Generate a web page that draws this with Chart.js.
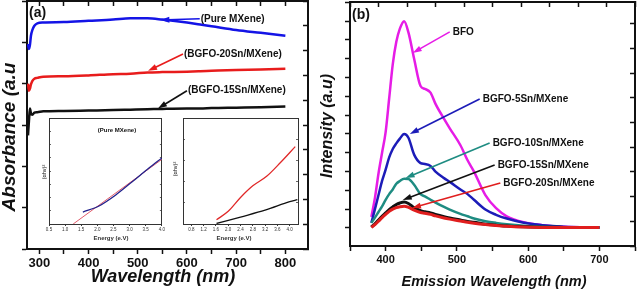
<!DOCTYPE html>
<html>
<head>
<meta charset="utf-8">
<script src="https://cdn.jsdelivr.net/npm/chart.js@4.4.1/dist/chart.umd.min.js"></script>
<style>
  body { margin: 0; background: #fff; }
  #wrap { position: relative; width: 637px; height: 290px; overflow: hidden; background: #fff; }
  canvas { position: absolute; }
</style>
</head>
<body>
<div id="wrap">
  <canvas id="absChart" width="318" height="290" style="left:0;top:0;width:318px;height:290px"></canvas>
  <canvas id="plChart" width="319" height="290" style="left:318px;top:0;width:319px;height:290px"></canvas>
  <canvas id="inset1" width="130" height="132" style="left:36px;top:112px;width:130px;height:132px"></canvas>
  <canvas id="inset2" width="132" height="132" style="left:170px;top:112px;width:132px;height:132px"></canvas>
</div>
<script>
// (a) absorbance spectra
const absWavelength = [277, 279, 281, 283, 286, 290, 296, 308, 350, 400, 450, 485, 520, 550, 600, 627, 650, 700, 750, 800];
const absPure = [4.96, 4.84, 4.94, 5.16, 5.30, 5.40, 5.46, 5.48, 5.49, 5.52, 5.55, 5.58, 5.58, 5.55, 5.48, 5.43, 5.39, 5.30, 5.23, 5.16];
const abs20Sn = [4.00, 3.83, 3.88, 3.98, 4.07, 4.12, 4.14, 4.17, 4.18, 4.20, 4.23, 4.24, 4.27, 4.28, 4.29, 4.30, 4.31, 4.33, 4.34, 4.36];
const abs15Sn = [2.75, 3.11, 3.40, 3.28, 3.25, 3.30, 3.31, 3.33, 3.34, 3.35, 3.36, 3.37, 3.38, 3.39, 3.40, 3.40, 3.41, 3.42, 3.43, 3.45];
const absTicks = [300, 400, 500, 600, 700, 800];

// (a) callouts: label, arrow tail, arrow tip (data units)
const absNotes = ['(Pure MXene)', '(BGFO-20Sn/MXene)', '(BGFO-15Sn/MXene)'];
const absNoteTail = [[626, 5.57], [592, 4.72], [600, 3.83]];
const absNoteTip = [[546, 5.54], [521, 4.31], [541, 3.40]];

// (b) photoluminescence spectra
const plWavelength = [380, 385, 390, 395, 400, 405, 410, 415, 420, 426, 432, 440, 449, 455, 463, 470, 482, 490, 505, 515, 524, 540, 555, 570, 594, 620, 650, 700];
const plBFO  = [0.59, 1.6, 2.9, 4.0, 5.1, 6.9, 8.7, 9.9, 10.6, 11.0, 10.4, 9.0, 7.55, 7.4, 7.2, 6.6, 5.8, 5.3, 4.4, 3.6, 3.0, 1.75, 1.05, 0.62, 0.3, 0.15, 0.06, 0.03];
const pl5Sn  = [0.27, 1.0, 1.75, 2.5, 3.1, 3.75, 4.2, 4.5, 4.75, 5.0, 4.8, 3.9, 3.45, 3.4, 3.3, 3.0, 2.65, 2.45, 2.05, 1.8, 1.5, 0.98, 0.7, 0.5, 0.28, 0.15, 0.07, 0.03];
const pl10Sn = [0.27, 0.55, 0.85, 1.15, 1.5, 1.8, 2.05, 2.35, 2.5, 2.62, 2.6, 2.3, 1.8, 1.68, 1.5, 1.35, 1.12, 0.98, 0.75, 0.62, 0.5, 0.36, 0.27, 0.2, 0.12, 0.07, 0.04, 0.03];
const pl15Sn = [0.05, 0.22, 0.42, 0.62, 0.8, 0.98, 1.12, 1.25, 1.33, 1.38, 1.3, 1.08, 0.92, 0.86, 0.8, 0.72, 0.6, 0.53, 0.42, 0.35, 0.3, 0.2, 0.15, 0.1, 0.06, 0.04, 0.03, 0.02];
const pl20Sn = [0.03, 0.18, 0.36, 0.55, 0.72, 0.88, 1.0, 1.08, 1.13, 1.16, 1.1, 0.95, 0.82, 0.78, 0.72, 0.64, 0.53, 0.47, 0.37, 0.3, 0.25, 0.18, 0.13, 0.09, 0.05, 0.03, 0.02, 0.02];

const plNotes = ['BFO', 'BGFO-5Sn/MXene', 'BGFO-10Sn/MXene', 'BGFO-15Sn/MXene', 'BGFO-20Sn/MXene'];
const plNoteTail = [[490, 10.43], [532, 6.86], [546, 4.52], [553, 3.35], [561, 2.39]];
const plNoteTip = [[438, 9.31], [434, 5.0], [428, 2.66], [424, 1.49], [437, 1.06]];

// insets: Tauc plots
const inset1Energy = [1.55, 2.05, 2.57, 3.07, 3.6, 4.0];
const inset1Pure = [1.13, 1.7, 2.74, 3.96, 5.28, 6.23];
const inset1FitEnergy = [1.25, 4.0];
const inset1Fit = [0, 6.1];
const inset2Energy = [1.62, 2.0, 2.4, 2.8, 3.25, 3.7, 4.18];
const inset2Red = [0.4, 1.2, 2.5, 3.6, 4.5, 5.8, 7.3];
const inset2BlackEnergy = [1.62, 2.4, 3.2, 4.0, 4.25];
const inset2Black = [0.05, 0.66, 1.3, 2.1, 2.3];

const FONT = '"Liberation Sans", Arial, sans-serif';
const INK = '#111';

const pts = (xs, ys) => xs.map((x, i) => ({x: x, y: ys[i]}));

function line(data, color, width, order) {
    return {
        data: data, borderColor: color, borderWidth: width, pointRadius: 0,
        fill: false, cubicInterpolationMode: 'monotone', order: order
    };
}

// text + arrow callouts drawn on top of the datasets
function decor(texts, notes, tails, tips, colors, noteFont, gap) {
    return {
        id: 'decor',
        afterDatasetsDraw(chart) {
            const ctx = chart.ctx;
            const sx = chart.scales.x, sy = chart.scales.y;
            ctx.save();
            notes.forEach((label, i) => {
                const x0 = sx.getPixelForValue(tails[i][0]), y0 = sy.getPixelForValue(tails[i][1]);
                const x1 = sx.getPixelForValue(tips[i][0]), y1 = sy.getPixelForValue(tips[i][1]);
                const a = Math.atan2(y1 - y0, x1 - x0);
                const hl = 9, hw = 3;
                ctx.strokeStyle = colors[i];
                ctx.fillStyle = colors[i];
                ctx.lineWidth = 1.6;
                ctx.beginPath();
                ctx.moveTo(x0, y0);
                ctx.lineTo(x1 - hl * 0.8 * Math.cos(a), y1 - hl * 0.8 * Math.sin(a));
                ctx.stroke();
                ctx.beginPath();
                ctx.moveTo(x1, y1);
                ctx.lineTo(x1 - hl * Math.cos(a) + hw * Math.sin(a), y1 - hl * Math.sin(a) - hw * Math.cos(a));
                ctx.lineTo(x1 - hl * Math.cos(a) - hw * Math.sin(a), y1 - hl * Math.sin(a) + hw * Math.cos(a));
                ctx.closePath();
                ctx.fill();
                ctx.fillStyle = INK;
                ctx.font = noteFont;
                ctx.textAlign = 'left';
                ctx.textBaseline = 'middle';
                ctx.fillText(label, x0 + gap, y0);
            });
            texts.forEach(t => {
                ctx.save();
                ctx.translate(t.x, t.y);
                if (t.rot) ctx.rotate(t.rot);
                ctx.font = t.font;
                ctx.fillStyle = t.color || INK;
                ctx.textAlign = t.align || 'center';
                ctx.textBaseline = 'middle';
                ctx.fillText(t.text, 0, 0);
                ctx.restore();
            });
            ctx.restore();
        }
    };
}

function frameAxis(pos, min, max, step, len, size, color, bw) {
    const horiz = pos === 'top' || pos === 'bottom';
    return {
        type: 'linear', position: pos, min: min, max: max,
        afterFit: s => { if (horiz) s.height = size; else s.width = size; },
        border: {color: color, width: bw},
        grid: {drawOnChartArea: false, tickLength: len, tickColor: color, tickWidth: bw * 0.75, display: step !== null},
        ticks: {display: false, stepSize: step || 1, includeBounds: false}
    };
}

// ---------- (a) ----------
new Chart(document.getElementById('absChart'), {
    type: 'line',
    data: {
        datasets: [
            line(pts(absWavelength, absPure), '#1414e6', 2.5, 0),
            line(pts(absWavelength, abs20Sn), '#e81c1c', 2.5, 1),
            line(pts(absWavelength, abs15Sn), INK, 2.5, 2)
        ]
    },
    options: {
        responsive: false, animation: false, devicePixelRatio: 1,
        layout: {padding: {top: 1, right: 10, left: 0, bottom: 0}},
        plugins: {legend: {display: false}, tooltip: {enabled: false}},
        elements: {line: {tension: 0}},
        scales: {
            x: {
                type: 'linear', position: 'bottom', min: 275, max: 846,
                afterFit: s => { s.height = 41; },
                border: {color: INK, width: 2},
                grid: {drawOnChartArea: false, tickLength: 5, tickWidth: 1.5, tickColor: INK},
                ticks: {
                    stepSize: 50, includeBounds: false, autoSkip: false, maxRotation: 0, padding: 2,
                    color: INK, font: {family: FONT, size: 13, weight: 'bold'},
                    callback: v => absTicks.includes(v) ? v : ''
                }
            },
            xTop: frameAxis('top', 275, 846, 50, -5, 0, INK, 2),
            y: frameAxis('left', 0, 6, 1, 5, 27, INK, 2),
            yRight: frameAxis('right', 0, 6, 0.6, -5, 0, INK, 2)
        }
    },
    plugins: [decor([
        {text: '(a)', x: 29, y: 13, font: 'bold 14px ' + FONT, align: 'left'},
        {text: 'Absorbance (a.u', x: 10, y: 137, rot: -Math.PI / 2, font: 'italic bold 19px ' + FONT},
        {text: 'Wavelength (nm)', x: 163, y: 277, font: 'italic bold 18px ' + FONT}
    ], absNotes, absNoteTail, absNoteTip, ['#1414e6', '#e81c1c', INK], 'bold 10px ' + FONT, 1)]
});

// ---------- (b) ----------
new Chart(document.getElementById('plChart'), {
    type: 'line',
    data: {
        datasets: [
            line(pts(plWavelength, plBFO), '#e61ce6', 2.5, 4),
            line(pts(plWavelength, pl5Sn), '#1c1cb8', 2.5, 3),
            line(pts(plWavelength, pl10Sn), '#1e8c82', 2.5, 2),
            line(pts(plWavelength, pl15Sn), INK, 3, 1),
            line(pts(plWavelength, pl20Sn), '#e01e1e', 3, 0)
        ]
    },
    options: {
        responsive: false, animation: false, devicePixelRatio: 1,
        layout: {padding: {top: 2, right: 2, left: 0, bottom: 0}},
        plugins: {legend: {display: false}, tooltip: {enabled: false}},
        scales: {
            x: {
                type: 'linear', position: 'bottom', min: 350, max: 750,
                afterFit: s => { s.height = 44; },
                border: {color: INK, width: 2},
                grid: {drawOnChartArea: false, tickLength: 5, tickWidth: 1.5, tickColor: INK},
                ticks: {
                    stepSize: 50, includeBounds: false, autoSkip: false, maxRotation: 0, padding: 2,
                    color: INK, font: {family: FONT, size: 11, weight: 'bold'},
                    callback: v => v % 100 === 0 ? v : ''
                }
            },
            xTop: frameAxis('top', 0, 10, 1, -5, 0, INK, 2),
            y: frameAxis('left', -0.96, 12.02, 1, 5, 32, INK, 2),
            yRight: frameAxis('right', 0, 9.88, 1, -5, 0, INK, 2)
        }
    },
    plugins: [decor([
        {text: '(b)', x: 34, y: 15, font: 'bold 14px ' + FONT, align: 'left'},
        {text: 'Intensity (a.u)', x: 10, y: 126, rot: -Math.PI / 2, font: 'italic bold 16px ' + FONT},
        {text: 'Emission Wavelength (nm)', x: 176, y: 282, font: 'italic bold 14.5px ' + FONT}
    ], plNotes, plNoteTail, plNoteTip, ['#e61ce6', '#1c1cb8', '#1e8c82', INK, '#e01e1e'], 'bold 10px ' + FONT, 3)]
});

// ---------- insets ----------
function insetOptions(xMin, xMax, xStep, yStep, rightPad) {
    return {
        responsive: false, animation: false, devicePixelRatio: 1,
        layout: {padding: {top: 6, right: rightPad, left: 0, bottom: 0}},
        plugins: {legend: {display: false}, tooltip: {enabled: false}},
        scales: {
            x: {
                type: 'linear', position: 'bottom', min: xMin, max: xMax,
                afterFit: s => { s.height = 20; },
                border: {color: '#333', width: 1},
                grid: {drawOnChartArea: false, tickLength: 2, tickColor: '#333'},
                ticks: {
                    stepSize: xStep, includeBounds: false, autoSkip: false, maxRotation: 0, padding: 1,
                    color: '#333', font: {family: FONT, size: 4.5},
                    callback: v => v.toFixed(1)
                }
            },
            xTop: frameAxis('top', xMin, xMax, null, 0, 0, '#333', 1),
            y: frameAxis('left', 0, 10, yStep, -2, 13, '#333', 1),
            yRight: frameAxis('right', 0, 10, yStep, -2, 0, '#333', 1)
        }
    };
}

new Chart(document.getElementById('inset1'), {
    type: 'line',
    data: {
        datasets: [
            line(pts(inset1Energy, inset1Pure), '#22228c', 1.3, 0),
            line(pts(inset1FitEnergy, inset1Fit), '#e05a6a', 1, 1)
        ]
    },
    options: insetOptions(0.5, 4.0, 0.5, 1.25, 3),
    plugins: [decor([
        {text: '(Pure MXene)', x: 81, y: 18, font: 'bold 6px ' + FONT},
        {text: '(\u03b1h\u03bd)\u00b2', x: 8, y: 60, rot: -Math.PI / 2, font: '5.5px ' + FONT},
        {text: 'Energy (e.V)', x: 75, y: 126, font: 'bold 6px ' + FONT, color: '#333'}
    ], [], [], [], [], '', 0)]
});

new Chart(document.getElementById('inset2'), {
    type: 'line',
    data: {
        datasets: [
            line(pts(inset2Energy, inset2Red), '#e02828', 1.3, 0),
            line(pts(inset2BlackEnergy, inset2Black), INK, 1.3, 1)
        ]
    },
    options: insetOptions(0.53, 4.27, 0.4, 2, 4),
    plugins: [decor([
        {text: '(\u03b1h\u03bd)\u00b2', x: 5, y: 57, rot: -Math.PI / 2, font: '5.5px ' + FONT},
        {text: 'Energy (e.V)', x: 64, y: 126, font: 'bold 6px ' + FONT, color: '#333'}
    ], [], [], [], [], '', 0)]
});
</script>
</body>
</html>
